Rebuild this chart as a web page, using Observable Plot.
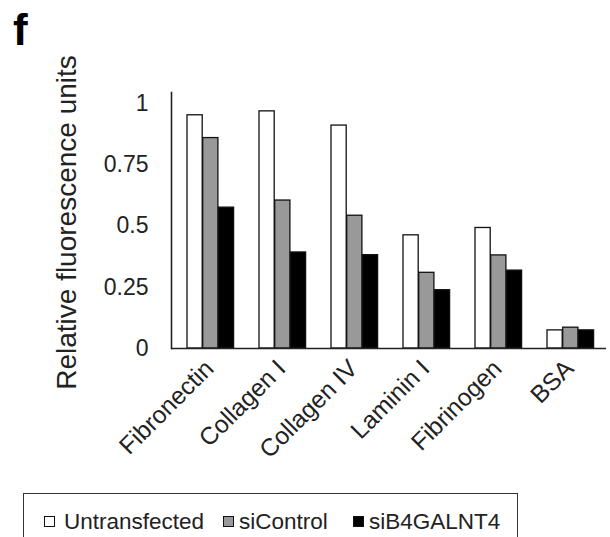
<!DOCTYPE html>
<html>
<head>
<meta charset="utf-8">
<script src="https://cdn.jsdelivr.net/npm/d3@7"></script>
<script src="https://cdn.jsdelivr.net/npm/@observablehq/plot@0.6"></script>
<style>
  html, body { margin: 0; padding: 0; background: #fff; }
  body { width: 610px; height: 537px; overflow: hidden; position: relative; font-family: "Liberation Sans", Arial, sans-serif; }
  #chart { position: absolute; left: 0; top: 0; z-index: 0; }
  #panel { position: absolute; left: 13px; top: 8px; font-size: 44px; font-weight: bold; color: #000; line-height: 1; z-index: 2; }
  #top { position: absolute; left: 307px; top: -19px; font-size: 22px; color: #666; line-height: 1; z-index: 2; }
  #legend { position: absolute; left: 23px; top: 493px; width: 495px; height: 70px; border: 1.5px solid #333; box-sizing: border-box; z-index: 2; }
  .item { position: absolute; top: 17px; font-size: 22.5px; color: #222; line-height: 1; white-space: nowrap; }
  .sw { position: absolute; top: 22px; width: 11px; height: 11px; border: 1.3px solid #111; box-sizing: border-box; }
</style>
</head>
<body>
<div id="chart"></div>
<div id="panel">f</div>
<div id="top">ical</div>
<div id="legend"></div>
<script>
const categories = ["Fibronectin", "Collagen I", "Collagen IV", "Laminin I", "Fibrinogen", "BSA"];
const seriesNames = ["Untransfected", "siControl", "siB4GALNT4"];
const seriesColors = ["#ffffff", "#999999", "#000000"];
const untransfected = [0.952, 0.968, 0.910, 0.462, 0.492, 0.074];
const siControl = [0.859, 0.604, 0.542, 0.309, 0.380, 0.085];
const siB4GALNT4 = [0.575, 0.392, 0.381, 0.238, 0.318, 0.074];
const yTicks = [0, 0.25, 0.5, 0.75, 1];
const yLabel = "Relative fluorescence units";

const seriesValues = [untransfected, siControl, siB4GALNT4];
const rows = seriesValues.map((vals, s) => categories.map((c, i) => ({category: c, series: seriesNames[s], value: vals[i]})));

const W = 610, H = 480, mL = 171, mR = 4, mT = 92, mB = 132;
const bw = (W - mL - mR) / categories.length;
const start = 14, barW = 15.7;

const barMarks = rows.map((data, s) => Plot.barY(data, {
  x: "category",
  y: "value",
  fill: seriesColors[s],
  stroke: "#111",
  strokeWidth: 1.3,
  insetLeft: start + s * barW,
  insetRight: bw - (start + (s + 1) * barW)
}));

const chart = Plot.plot({
  width: W,
  height: H,
  marginLeft: mL,
  marginRight: mR,
  marginTop: mT,
  marginBottom: mB,
  style: {fontFamily: "'Liberation Sans', Arial, sans-serif", color: "#222", background: "transparent"},
  x: {domain: categories, padding: 0, label: null},
  y: {domain: [0, 1.045], label: null},
  marks: [
    ...barMarks,
    Plot.ruleY([0], {stroke: "#222", strokeWidth: 1.6}),
    Plot.frame({anchor: "left", stroke: "#222", strokeWidth: 1.6}),
    Plot.axisY({ticks: yTicks, tickSize: 0, tickPadding: 23, fontSize: 23, label: null, tickFormat: d => String(d)}),
    Plot.axisX({tickRotate: -45, tickSize: 0, tickPadding: 16, fontSize: 24.5, label: null}),
    Plot.text([yLabel], {frameAnchor: "left", textAnchor: "middle", rotate: -90, dx: -104, dy: 2, fontSize: 28, fill: "#222"})
  ]
});
document.getElementById("chart").appendChild(chart);

const legend = document.getElementById("legend");
const swX = [20, 199, 329];
const txX = [40, 215, 345];
seriesNames.forEach((n, i) => {
  const sw = document.createElement("div");
  sw.className = "sw";
  sw.style.left = swX[i] + "px";
  sw.style.background = seriesColors[i];
  legend.appendChild(sw);
  const t = document.createElement("div");
  t.className = "item";
  t.style.left = txX[i] + "px";
  t.textContent = n;
  legend.appendChild(t);
});
</script>
</body>
</html>
